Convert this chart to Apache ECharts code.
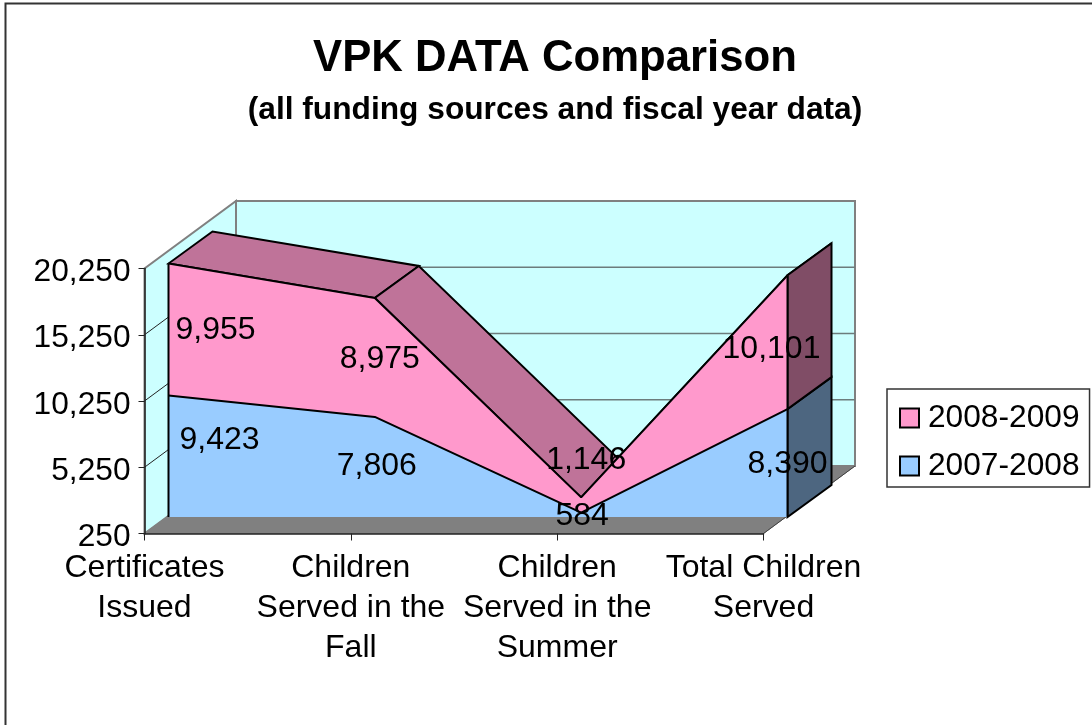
<!DOCTYPE html>
<html>
<head>
	<meta charset="utf-8"/>
	<title>VPK DATA Comparison</title>
	<style>
		* {
			margin: 0;
			padding: 0;
		}
		body {
			background: #fff;
		}
	</style>
</head>
<body>

	<div style="width: 1092px;height:725px;" id="myChart"></div>

	<script src="https://cdn.jsdelivr.net/npm/echarts@6/dist/echarts.min.js"></script>
	<script>
		var categories = ['Certificates\nIssued', 'Children\nServed in the\nFall', 'Children\nServed in the\nSummer', 'Total Children\nServed'];
		var values0708 = [9423, 7806, 584, 8390];
		var values0809 = [9955, 8975, 1146, 10101];
		var tickValues = [250, 5250, 10250, 15250, 20250];

		var FONT = '"Liberation Sans", Arial, sans-serif';
		var AXIS_MIN = 250, AXIS_MAX = 20250;

		// 3d look: wall depth and band depth in px
		var wallDepth = [91.5, -67.5];
		var bandDepth = [44, -32];

		// label shift from the middle of its band, Excel moved them around
		var nudge0708 = [[51, -16], [2, -1], [1, 1], [0, 1]];
		var nudge0809 = [[47, 1], [5, 2], [5, -45], [-16, 7]];

		var totals = values0708.map(function (v, i) { return v + values0809[i]; });

		var myChart = echarts.init(document.getElementById('myChart'));

		function shift(p, d) {
			return [p[0] + d[0], p[1] + d[1]];
		}

		function poly(points, fill, stroke, width) {
			return {
				type: 'polygon',
				shape: { points: points },
				style: { fill: fill, stroke: stroke, lineWidth: width }
			};
		}

		function line(a, b, stroke, width) {
			return {
				type: 'line',
				shape: { x1: a[0], y1: a[1], x2: b[0], y2: b[1] },
				style: { stroke: stroke, lineWidth: width }
			};
		}

		// left wall, back wall, floor and gridlines
		function renderWalls(params, api) {
			var last = categories.length - 1;
			var o = api.coord([0, AXIS_MIN]);
			var t = api.coord([0, AXIS_MAX]);
			var r = api.coord([last, AXIS_MIN]);
			var oB = shift(o, wallDepth), tB = shift(t, wallDepth), rB = shift(r, wallDepth);
			var rtB = [rB[0], tB[1]];
			var kids = [
				poly([o, t, tB, oB], '#ccffff', '#808080', 2),
				poly([oB, tB, rtB, rB], '#ccffff', '#808080', 2),
				poly([o, r, rB, oB], '#808080', '#808080', 1),
				line(r, rB, '#404040', 1)
			];
			tickValues.slice(1, -1).forEach(function (v) {
				var p = api.coord([0, v]);
				var pB = shift(p, wallDepth);
				kids.push(line(p, pB, '#222', 1));
				kids.push(line(pB, [rB[0], pB[1]], '#6c7c7c', 1.5));
			});
			return { type: 'group', children: kids };
		}

		// darker top faces and the end caps behind the front faces
		function renderTops(params, api) {
			var kids = [];
			for (var i = 0; i < totals.length - 1; i++) {
				var a = api.coord([i, totals[i]]);
				var b = api.coord([i + 1, totals[i + 1]]);
				kids.push(poly([a, b, shift(b, bandDepth), shift(a, bandDepth)], '#bf7399', '#000', 2));
			}
			var n = totals.length - 1;
			var base = api.coord([n, AXIS_MIN]);
			var mid = api.coord([n, values0708[n]]);
			var top = api.coord([n, totals[n]]);
			kids.push(poly([base, mid, shift(mid, bandDepth), shift(base, bandDepth)], '#4d6680', '#000', 2));
			kids.push(poly([mid, top, shift(top, bandDepth), shift(mid, bandDepth)], '#804d66', '#000', 2));
			return { type: 'group', children: kids };
		}

		// side edges of the front faces and the value labels
		function renderFront(params, api) {
			var kids = [];
			var n = totals.length - 1;
			kids.push(line(api.coord([0, AXIS_MIN]), api.coord([0, totals[0]]), '#000', 2));
			kids.push(line(api.coord([n, AXIS_MIN]), api.coord([n, totals[n]]), '#000', 2));

			function addLabel(i, lower, upper, value, d) {
				var p = api.coord([i, (lower + upper) / 2]);
				kids.push({
					type: 'text',
					style: {
						x: p[0] + d[0],
						y: p[1] + d[1],
						text: value.toLocaleString('en-US'),
						fill: '#000',
						font: '32px ' + FONT,
						align: 'center',
						verticalAlign: 'middle'
					}
				});
			}
			totals.forEach(function (total, i) {
				addLabel(i, AXIS_MIN, values0708[i], values0708[i], nudge0708[i]);
				addLabel(i, values0708[i], total, values0809[i], nudge0809[i]);
			});
			return { type: 'group', children: kids };
		}

		var option = {
			animation: false,
			backgroundColor: '#fff',
			graphic: [
				{
					type: 'rect',
					shape: { x: 5.5, y: 3.5, width: 1200, height: 800 },
					style: { fill: 'none', stroke: '#333', lineWidth: 2 },
					silent: true
				}
			],
			title: [
				{
					text: 'VPK DATA Comparison',
					left: 550,
					top: 32,
					textAlign: 'center',
					textStyle: { fontFamily: FONT, fontSize: 43.7, fontWeight: 'bold', color: '#000' }
				},
				{
					text: '(all funding sources and fiscal year data)',
					left: 550,
					top: 89,
					textAlign: 'center',
					textStyle: { fontFamily: FONT, fontSize: 31.7, fontWeight: 'bold', color: '#000' }
				}
			],
			legend: {
				data: ['2008-2009', '2007-2008'],
				orient: 'vertical',
				left: 887,
				top: 389,
				icon: 'rect',
				itemWidth: 19,
				itemHeight: 19,
				itemGap: 12,
				padding: [11, 10, 3, 12],
				borderColor: '#333',
				borderWidth: 1.5,
				backgroundColor: '#fff',
				itemStyle: { borderColor: '#000', borderWidth: 2 },
				textStyle: { fontFamily: FONT, fontSize: 31.7, color: '#000', padding: [0, 0, 0, 4], lineHeight: 36 },
				selectedMode: false
			},
			grid: [
				{ left: 144.5, top: 268.5, width: 619, height: 265 },			// plane of the axes
				{ left: 168.5, top: 252, width: 619, height: 265 }				// front plane of the bands
			],
			xAxis: [
				{
					type: 'category',
					gridIndex: 0,
					data: categories,
					boundaryGap: false,
					z: 6,
					axisLine: { lineStyle: { color: '#222', width: 1.5 } },
					axisTick: { alignWithLabel: true, length: 7, lineStyle: { color: '#222' } },
					axisLabel: {
						interval: 0,
						margin: 15,
						color: '#000',
						fontFamily: FONT,
						fontSize: 32,
						lineHeight: 40
					}
				},
				{
					type: 'category',
					gridIndex: 1,
					data: categories,
					boundaryGap: false,
					show: false
				}
			],
			yAxis: [
				{
					type: 'value',
					gridIndex: 0,
					min: AXIS_MIN,
					max: AXIS_MAX,
					z: 6,
					splitLine: { show: false },
					axisLine: { show: true, lineStyle: { color: '#222', width: 1.5 } },
					axisTick: { show: true, length: 6, customValues: tickValues, lineStyle: { color: '#222' } },
					axisLabel: {
						customValues: tickValues,
						margin: 14,
						formatter: function (v) {
							return '{v|' + echarts.format.addCommas(v) + '}';
						},
						rich: {
							v: {						// sits a bit under the tick like the original
								padding: [8, 0, 0, 0],
								color: '#000',
								fontFamily: FONT,
								fontSize: 31.7
							}
						}
					}
				},
				{
					type: 'value',
					gridIndex: 1,
					min: AXIS_MIN,
					max: AXIS_MAX,
					show: false,
					splitLine: { show: false }
				}
			],
			series: [
				{
					type: 'custom',
					xAxisIndex: 0,
					yAxisIndex: 0,
					z: 1,
					silent: true,
					clip: false,
					data: [[0, AXIS_MIN]],
					renderItem: renderWalls
				},
				{
					type: 'custom',
					xAxisIndex: 1,
					yAxisIndex: 1,
					z: 2,
					silent: true,
					clip: false,
					data: [[0, AXIS_MIN]],
					renderItem: renderTops
				},
				{
					name: '2007-2008',
					type: 'line',
					xAxisIndex: 1,
					yAxisIndex: 1,
					stack: 'vpk',
					z: 3,
					showSymbol: false,
					itemStyle: { color: '#99ccff' },
					lineStyle: { color: '#000', width: 2 },
					areaStyle: { color: '#99ccff', opacity: 1 },
					data: values0708
				},
				{
					name: '2008-2009',
					type: 'line',
					xAxisIndex: 1,
					yAxisIndex: 1,
					stack: 'vpk',
					z: 3,
					showSymbol: false,
					itemStyle: { color: '#ff99cc' },
					lineStyle: { color: '#000', width: 2 },
					areaStyle: { color: '#ff99cc', opacity: 1 },
					data: values0809
				},
				{
					type: 'custom',
					xAxisIndex: 1,
					yAxisIndex: 1,
					z: 4,
					silent: true,
					clip: false,
					data: [[0, AXIS_MIN]],
					renderItem: renderFront
				}
			]
		};

		myChart.setOption(option);
	</script>
</body>
</html>
